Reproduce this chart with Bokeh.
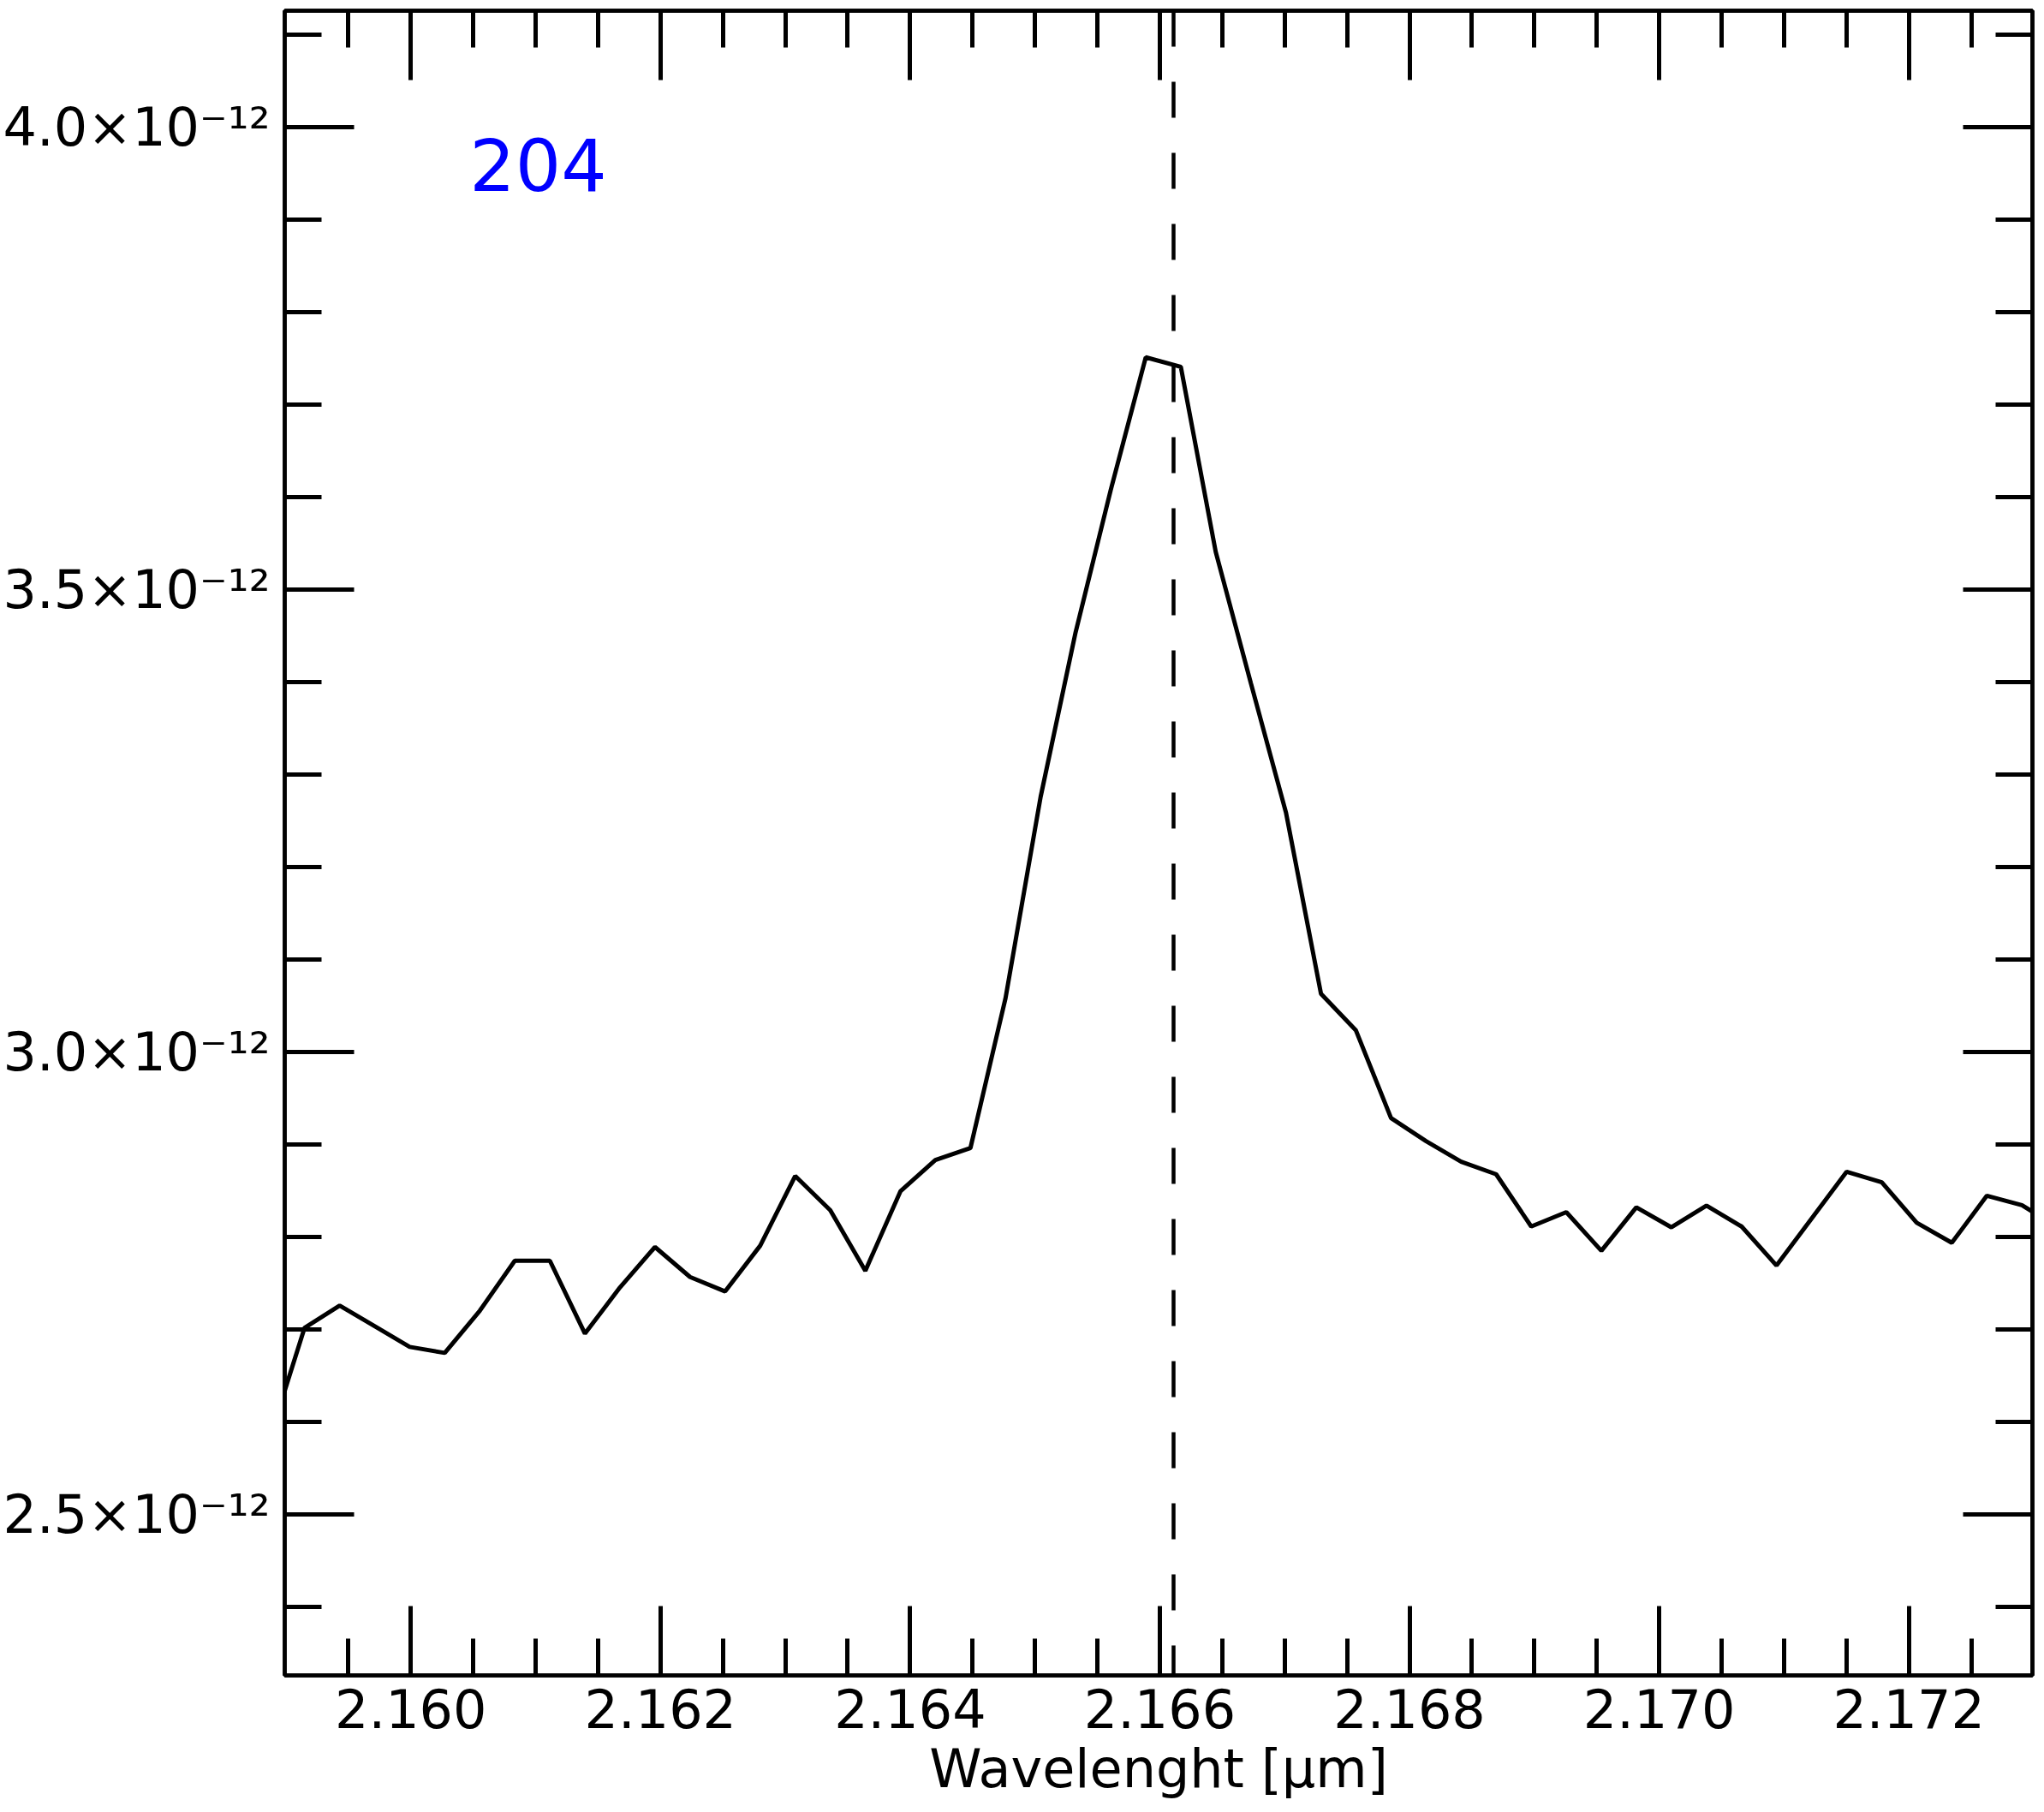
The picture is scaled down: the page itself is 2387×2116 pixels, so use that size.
from bokeh.plotting import figure
from bokeh.models import (Range1d, FixedTicker, LinearAxis, CustomJSTickFormatter,
                          PrintfTickFormatter, Span, Label)
from bokeh.embed import file_html
from bokeh.resources import INLINE

# ---- data ----
wavelength = [2.158868, 2.159149, 2.159430, 2.159710, 2.159991, 2.160272, 2.160553,
              2.160833, 2.161114, 2.161395, 2.161676, 2.161956, 2.162237, 2.162518,
              2.162799, 2.163079, 2.163360, 2.163641, 2.163922, 2.164202, 2.164483,
              2.164764, 2.165045, 2.165325, 2.165606, 2.165887, 2.166168, 2.166448,
              2.166729, 2.167010, 2.167291, 2.167571, 2.167852, 2.168133, 2.168414,
              2.168694, 2.168975, 2.169256, 2.169537, 2.169817, 2.170098, 2.170379,
              2.170660, 2.170940, 2.171221, 2.171502, 2.171783, 2.172063, 2.172344,
              2.172625, 2.172906, 2.173186]
flux = [2.5815e-12, 2.7019e-12, 2.7259e-12, 2.7037e-12, 2.6812e-12, 2.6747e-12, 2.7204e-12,
        2.7744e-12, 2.7744e-12, 2.6956e-12, 2.7456e-12, 2.7892e-12, 2.7568e-12, 2.7412e-12,
        2.7907e-12, 2.8660e-12, 2.8290e-12, 2.7636e-12, 2.8494e-12, 2.8833e-12, 2.8963e-12,
        3.0583e-12, 3.2759e-12, 3.4537e-12, 3.6074e-12, 3.7512e-12, 3.7410e-12, 3.5407e-12,
        3.3991e-12, 3.2593e-12, 3.0630e-12, 3.0234e-12, 2.9287e-12, 2.9037e-12, 2.8815e-12,
        2.8679e-12, 2.8114e-12, 2.8269e-12, 2.7852e-12, 2.8321e-12, 2.8105e-12, 2.8340e-12,
        2.8114e-12, 2.7692e-12, 2.8199e-12, 2.8706e-12, 2.8593e-12, 2.8155e-12, 2.7938e-12,
        2.8447e-12, 2.8345e-12, 2.8111e-12]

x_major_ticks = [2.160, 2.162, 2.164, 2.166, 2.168, 2.170, 2.172]
x_minor_ticks = [2.1595, 2.1600, 2.1605, 2.1610, 2.1615, 2.1620, 2.1625, 2.1630, 2.1635,
                 2.1640, 2.1645, 2.1650, 2.1655, 2.1660, 2.1665, 2.1670, 2.1675, 2.1680,
                 2.1685, 2.1690, 2.1695, 2.1700, 2.1705, 2.1710, 2.1715, 2.1720, 2.1725]
y_major_ticks = [2.5e-12, 3.0e-12, 3.5e-12, 4.0e-12]
y_minor_ticks = [2.4e-12, 2.5e-12, 2.6e-12, 2.7e-12, 2.8e-12, 2.9e-12, 3.0e-12, 3.1e-12,
                 3.2e-12, 3.3e-12, 3.4e-12, 3.5e-12, 3.6e-12, 3.7e-12, 3.8e-12, 3.9e-12,
                 4.0e-12, 4.1e-12]
line_center = 2.16611
panel_label = "204"
x_title = "Wavelenght [μm]"

FONT = "DejaVu Sans"

p = figure(width=2380, height=2116,
           x_range=Range1d(2.15899, 2.17299), y_range=Range1d(2.326e-12, 4.126e-12),
           output_backend="svg", toolbar_location=None,
           min_border_left=332, min_border_right=7, min_border_top=12, min_border_bottom=160)
p.grid.visible = False
p.background_fill_color = "white"
p.border_fill_color = "white"
p.outline_line_color = "black"
p.outline_line_width = 4.5


def style_axis(ax, major, minor, show_labels):
    ax.ticker = FixedTicker(ticks=major, minor_ticks=minor)
    ax.major_tick_in = 81
    ax.major_tick_out = 0
    ax.minor_tick_in = 43
    ax.minor_tick_out = 0
    ax.major_tick_line_width = 5
    ax.minor_tick_line_width = 5
    ax.axis_line_width = 4.5
    ax.major_tick_line_color = "black"
    ax.minor_tick_line_color = "black"
    ax.axis_line_color = "black"
    if show_labels:
        ax.major_label_text_font = FONT
        ax.major_label_text_font_size = "62px"
        ax.major_label_text_color = "black"
    else:
        ax.major_label_text_font_size = "0px"
        ax.major_label_standoff = 0
        ax.major_label_text_alpha = 0


xb = p.xaxis[0]
style_axis(xb, x_major_ticks, x_minor_ticks, True)
xb.formatter = PrintfTickFormatter(format="%.3f")
xb.major_label_standoff = 15
xb.axis_label = x_title
xb.axis_label_text_font = FONT
xb.axis_label_text_font_size = "62px"
xb.axis_label_text_font_style = "normal"
xb.axis_label_text_color = "black"
xb.axis_label_standoff = 8

yl = p.yaxis[0]
style_axis(yl, y_major_ticks, y_minor_ticks, True)
yl.formatter = CustomJSTickFormatter(code="return (tick*1e12).toFixed(1) + '\u00d710\u207b\u00b9\u00b2';")
yl.major_label_standoff = 17

xt = LinearAxis()
style_axis(xt, x_major_ticks, x_minor_ticks, False)
p.add_layout(xt, "above")

yr = LinearAxis()
style_axis(yr, y_major_ticks, y_minor_ticks, False)
p.add_layout(yr, "right")

span = Span(location=line_center, dimension="height", line_color="black",
            line_width=4.5, line_dash="42 41")
p.add_layout(span)

p.line(wavelength, flux, line_color="black", line_width=5)

lab = Label(x=2.16047, y=3.960e-12, text=panel_label, text_color="#0000ff",
            text_font=FONT, text_font_size="84px", text_baseline="alphabetic",
            text_align="left")
p.add_layout(lab)

open("out.html", "w", encoding="utf-8").write(file_html(p, INLINE))
